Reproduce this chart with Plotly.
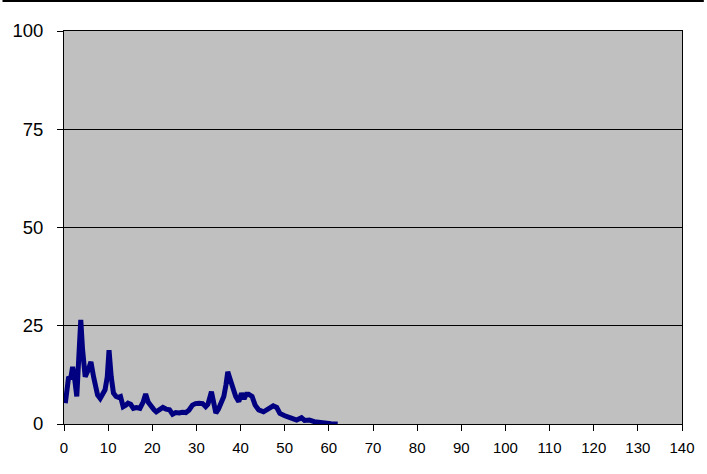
import plotly.graph_objects as go

x_vals = [0.3, 0.7, 1.05, 1.5, 1.95, 2.3, 2.9, 3.4, 3.8, 4.2, 4.8, 5.4, 6.1, 6.7, 7.6, 8.2, 8.8, 9.3, 9.8, 10.2,
          10.7, 11.2, 11.8, 12.3, 12.8, 13.4, 14.0, 14.5, 15.1, 15.7, 16.4, 17.2, 17.9, 18.5, 19.1, 19.8, 20.4,
          20.9, 21.6, 22.4, 23.1, 23.9, 24.6, 25.3, 26.1, 26.8, 27.6, 28.3, 29.1, 29.8, 30.6, 31.4, 32.1, 32.6,
          33.4, 33.9, 34.4, 35.0, 35.5, 36.2, 36.7, 37.1, 37.6, 38.1, 38.6, 38.9, 39.6, 40.2, 40.8, 41.3, 41.8,
          42.6, 43.3, 44.1, 45.2, 45.9, 46.7, 47.4, 48.2, 48.9, 50.0, 50.8, 51.5, 52.7, 53.8, 54.5, 55.6, 56.7,
          57.8, 59.0, 60.5, 62.0]
y_vals = [5.3, 8.5, 12.0, 11.5, 14.5, 12.5, 7.0, 18.0, 26.5, 19.0, 12.0, 13.5, 15.8, 12.0, 7.4, 6.5, 7.5, 8.7,
          12.0, 18.8, 12.0, 7.9, 7.0, 6.8, 7.0, 4.4, 4.8, 5.3, 5.0, 4.0, 4.2, 4.0, 5.5, 7.6, 5.5, 4.2, 3.6, 3.1,
          3.6, 4.2, 3.8, 3.6, 2.5, 2.9, 2.8, 3.0, 2.9, 3.5, 4.8, 5.2, 5.3, 5.2, 4.4, 5.0, 8.2, 5.0, 2.8, 3.8, 5.1,
          7.0, 10.0, 13.3, 11.5, 9.5, 7.5, 7.0, 5.7, 7.8, 6.4, 7.6, 7.6, 7.0, 4.8, 3.6, 3.1, 3.6, 4.4, 4.6, 4.2,
          2.7, 2.1, 1.9, 1.5, 1.0, 1.6, 0.9, 1.0, 0.6, 0.4, 0.15, 0.05, 0.0]

x_ticks = list(range(0, 141, 10))
y_ticks = [0, 25, 50, 75, 100]

fig = go.Figure()
fig.add_trace(go.Scatter(x=x_vals, y=y_vals, mode="lines",
                         line=dict(color="#000080", width=5),
                         hoverinfo="skip", showlegend=False))

W, H = 707, 474
ml, mr, mt, mb = 62, 22, 31, 50
pw, ph = W - ml - mr, H - mt - mb

fig.update_layout(
    width=W, height=H,
    margin=dict(l=ml, r=mr, t=mt, b=mb, pad=0),
    paper_bgcolor="white",
    plot_bgcolor="#C0C0C0",
    font=dict(family="Liberation Sans, Arial, sans-serif", color="black"),
    showlegend=False,
    xaxis=dict(range=[0, 140], tickvals=x_ticks, ticktext=[str(v) for v in x_ticks],
               showgrid=False, zeroline=False, showline=True, linecolor="black", linewidth=1,
               mirror=True, ticks="outside", ticklen=6, tickcolor="black",
               tickfont=dict(size=15), ticklabelstandoff=4),
    yaxis=dict(range=[0, 100], tickvals=y_ticks, ticktext=[str(v) for v in y_ticks],
               showgrid=True, gridcolor="black", gridwidth=1, zeroline=False,
               showline=True, linecolor="black", linewidth=1, mirror=True,
               ticks="outside", ticklen=6, tickcolor="black",
               tickfont=dict(size=18.5), ticklabelstandoff=10),
    shapes=[dict(type="line", xref="paper", yref="paper",
                 x0=-ml / pw, x1=1 + mr / pw, y0=1 + (mt - 1) / ph, y1=1 + (mt - 1) / ph,
                 line=dict(color="black", width=2))],
)

fig.write_html("out.html", config={"displayModeBar": False},
               post_script="document.body.style.margin='0';document.body.style.padding='0';")
